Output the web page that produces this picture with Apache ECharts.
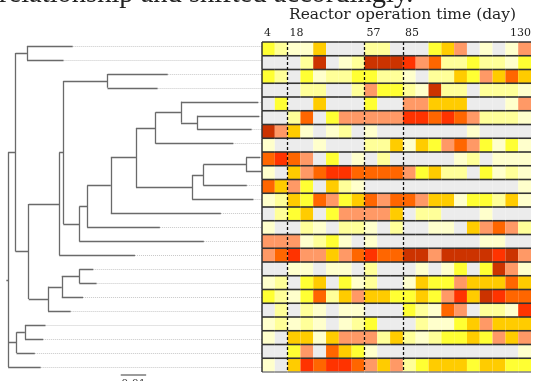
<!DOCTYPE html>
<html><head><meta charset="utf-8">
<script src="https://cdn.jsdelivr.net/npm/echarts@6/dist/echarts.min.js"></script>
<style>html,body{margin:0;padding:0;background:#fff;overflow:hidden}#c{width:534px;height:381px}</style>
</head><body><div id="c"></div>
<script>
// ---- data ----
const captionText = 'relationship and shifted accordingly.';
const axisTitle = 'Reactor operation time (day)';
const timeLabels = ['4', '18', '57', '85', '130'];
const timeLabelCols = [0, 2, 8, 11, 21];
const phaseBoundaries = [2, 8, 11];
const nCols = 21;
// abundance level 0 (absent) .. 8 (highest)
const levelColors = ['#ececec', '#ffffcc', '#ffff99', '#ffff33', '#ffcc00', '#ff9966', '#ff6600', '#ff3300', '#cc3300'];
const heatRows = [
  [3,2,1,1,4,0,0,0,2,2,0,0,0,3,4,5,0,1,0,1,5],
  [0,0,0,2,8,0,1,2,8,8,8,7,5,6,2,2,3,2,2,1,3],
  [3,2,0,3,1,2,2,3,3,2,2,1,0,2,2,4,3,5,4,6,4],
  [0,0,0,2,2,0,0,2,5,3,3,2,1,8,2,2,0,2,2,2,1],
  [0,3,0,0,4,0,0,0,3,0,0,5,5,4,4,4,0,0,0,1,5],
  [0,0,2,6,0,3,5,5,5,5,5,7,7,6,7,6,5,2,2,2,1],
  [8,5,4,1,0,1,2,0,1,0,0,0,0,0,0,0,1,0,0,0,0],
  [1,0,0,0,1,0,0,0,2,2,4,1,4,3,5,6,5,3,1,3,1],
  [6,7,6,5,0,3,0,1,0,2,0,0,0,0,0,1,2,0,1,1,1],
  [1,0,4,5,6,7,7,6,6,6,6,5,3,4,2,2,0,3,1,2,1],
  [6,4,5,3,0,4,2,1,0,0,0,0,0,0,0,0,0,0,0,0,1],
  [1,2,4,3,6,5,3,4,6,5,6,6,5,4,4,1,3,3,2,4,1],
  [0,2,3,4,0,3,5,5,5,5,4,0,2,2,0,0,0,1,0,0,0],
  [1,0,0,2,1,0,2,2,1,0,2,0,0,1,1,0,4,5,6,5,2],
  [5,5,5,1,2,3,1,0,1,0,0,0,0,0,0,0,0,1,1,0,0],
  [5,6,7,5,5,4,5,6,7,6,6,8,8,5,8,8,8,8,7,8,5],
  [0,0,1,1,0,1,1,0,2,0,0,0,1,0,1,3,0,3,8,5,1],
  [1,2,0,3,4,0,3,1,2,0,0,1,4,3,3,5,4,4,4,6,4],
  [3,2,1,3,6,2,4,5,4,4,3,3,4,3,5,7,4,8,7,6,6],
  [0,2,0,2,1,0,1,1,0,0,0,3,2,1,6,5,0,2,2,1,7],
  [1,2,1,2,1,0,1,2,3,0,0,0,2,1,1,3,4,5,4,4,4],
  [1,0,4,4,1,4,5,5,5,2,4,2,1,2,3,3,4,3,5,4,5],
  [0,0,3,5,0,6,4,3,1,0,0,0,0,0,0,0,0,0,0,0,1],
  [1,0,4,7,6,7,7,6,5,4,5,2,3,4,4,4,3,4,4,3,3]
];
// tree: distance from root (units of 0.001 substitutions/site)
const leafDepth = [25.4, 21.8, 62.8, 58.8, 98.4, 98.8, 95.8, 88.6, 99.1, 99.5, 93.9, 96.5,
                   83.7, 59.7, 77.0, 49.9, 33.5, 34.8, 29.5, 24.6, 14.7, 13.8, 10.5, 12.8];
const treeRoot = {d: 0, c: [
  {d: 2.9, c: [
    {d: 7.4, c: [0, 1]},
    {d: 8.1, c: [
      {d: 20.1, c: [
        {d: 21.7, c: [
          {d: 39.1, c: [2, 3]},
          {d: 28.0, c: [
            {d: 31.1, c: [
              {d: 40.4, c: [
                {d: 50.3, c: [
                  {d: 58.0, c: [{d: 68.0, c: [4, {d: 74.4, c: [5, 6]}]}, 7]},
                  {d: 72.4, c: [{d: 76.8, c: [{d: 93.6, c: [8, 9]}, 10]}, 11]}
                ]},
                12]},
              13]},
            14]}
        ]},
        15]},
      {d: 15.7, c: [{d: 21.1, c: [{d: 28.0, c: [16, 17]}, 18]}, 19]}
    ]}
  ]},
  {d: 3.3, c: [{d: 6.6, c: [20, 21]}, 22]},
  23
]};
const rootStubY = 17.3;
const scaleBarStart = 44.3, scaleBarLength = 10, scaleBarLabel = '0.01';

// ---- build ----
const nRows = heatRows.length;
const cells = [];
heatRows.forEach((row, r) => row.forEach((v, c) => cells.push([c, r, v])));

const solid = [], dotted = [];
function layout(node) {
  if (typeof node === 'number') {
    const y = node + 0.5;
    dotted.push({coords: [[leafDepth[node], y], [100, y]]});
    return {y: y, d: leafDepth[node]};
  }
  const kids = node.c.map(layout);
  const y0 = kids[0].y, y1 = kids[kids.length - 1].y;
  solid.push({coords: [[node.d, y0], [node.d, y1]]});
  kids.forEach(k => solid.push({coords: [[node.d, k.y], [k.d, k.y]]}));
  return {y: (y0 + y1) / 2, d: node.d};
}
layout(treeRoot);
solid.push({coords: [[-0.7, rootStubY], [0, rootStubY]]});

const chart = echarts.init(document.getElementById('c'), null, {renderer: 'canvas'});
const serif = '"DejaVu Serif", serif';
chart.setOption({
  animation: false,
  title: {text: axisTitle, left: 289, top: 7, padding: 0,
    textStyle: {fontFamily: serif, fontSize: 15.5, fontWeight: 'normal', color: '#222'}},
  grid: [
    {left: 262, right: 1, top: 42, bottom: 9},
    {left: 0, width: 262.3, top: 39, height: 335}
  ],
  xAxis: [
    {gridIndex: 0, type: 'value', min: 0, max: nCols, interval: 1, position: 'top',
     axisLine: {show: false}, axisTick: {show: false}, splitLine: {show: false},
     axisLabel: {margin: 3, fontFamily: serif, fontSize: 11, color: '#222', align: 'left',
       padding: [0, 0, 0, 2],
       alignMaxLabel: 'right', showMaxLabel: true, showMinLabel: true, hideOverlap: false,
       formatter: v => { const i = timeLabelCols.indexOf(Math.round(v)); return i >= 0 ? timeLabels[i] : ''; }}},
    {gridIndex: 1, type: 'value', min: -3.2, max: 100, show: false}
  ],
  yAxis: [
    {gridIndex: 0, type: 'value', min: 0, max: nRows, inverse: true, show: false},
    {gridIndex: 1, type: 'value', min: 0, max: nRows, inverse: true, show: false}
  ],
  visualMap: {type: 'piecewise', show: false, dimension: 2, seriesIndex: 0,
    pieces: levelColors.map((col, i) => ({value: i, color: col}))},
  series: [
    {type: 'custom', xAxisIndex: 0, yAxisIndex: 0, data: cells, silent: true,
     renderItem: (params, api) => {
       const c = api.value(0), r = api.value(1);
       const p0 = api.coord([c, r]), p1 = api.coord([c + 1, r + 1]);
       const kids = [{type: 'rect', shape: {x: p0[0], y: p0[1], width: p1[0] - p0[0], height: p1[1] - p0[1]},
         style: {fill: api.visual('color')}, z2: 1}];
       kids.push({type: 'line', shape: {x1: p0[0], y1: p1[1], x2: p1[0], y2: p1[1]},
         style: {stroke: r === nRows - 1 ? '#888' : '#333', lineWidth: 1.6}, z2: 10});
       if (r === 0) kids.push({type: 'line', shape: {x1: p0[0], y1: p0[1], x2: p1[0], y2: p0[1]},
         style: {stroke: '#333', lineWidth: 1.5}, z2: 10});
       if (c === 0) kids.push({type: 'line', shape: {x1: p0[0], y1: p0[1], x2: p0[0], y2: p1[1]},
         style: {stroke: '#333', lineWidth: 1.5}, z2: 10});
       return {type: 'group', children: kids};
     }},
    {type: 'line', xAxisIndex: 0, yAxisIndex: 0, data: [], z: 5,
     markLine: {silent: true, symbol: ['none', 'none'], label: {show: false},
       lineStyle: {color: '#111', type: [3, 2], width: 1.3},
       data: phaseBoundaries.map(v => ({xAxis: v}))}},
    {type: 'lines', coordinateSystem: 'cartesian2d', xAxisIndex: 1, yAxisIndex: 1, silent: true,
     lineStyle: {color: '#c8c8c8', width: 1, type: [1, 1], opacity: 1}, data: dotted},
    {type: 'lines', coordinateSystem: 'cartesian2d', xAxisIndex: 1, yAxisIndex: 1, silent: true,
     lineStyle: {color: '#6a6a6a', width: 1.3, opacity: 1}, data: solid}
  ]
});
const a = chart.convertToPixel({gridIndex: 1}, [scaleBarStart, 0]);
const b = chart.convertToPixel({gridIndex: 1}, [scaleBarStart + scaleBarLength, 0]);
chart.setOption({graphic: [
  {type: 'text', left: -1, top: -19.5, style: {text: captionText, font: '28.5px "Liberation Serif", serif', fill: '#222'}},
  {type: 'line', shape: {x1: a[0], y1: 375, x2: b[0], y2: 375}, style: {stroke: '#666', lineWidth: 1.3}},
  {type: 'text', x: (a[0] + b[0]) / 2, y: 379, style: {text: scaleBarLabel, font: '11px "DejaVu Serif", serif', fill: '#444', align: 'center', verticalAlign: 'top'}}
]});
</script>
</body></html>
